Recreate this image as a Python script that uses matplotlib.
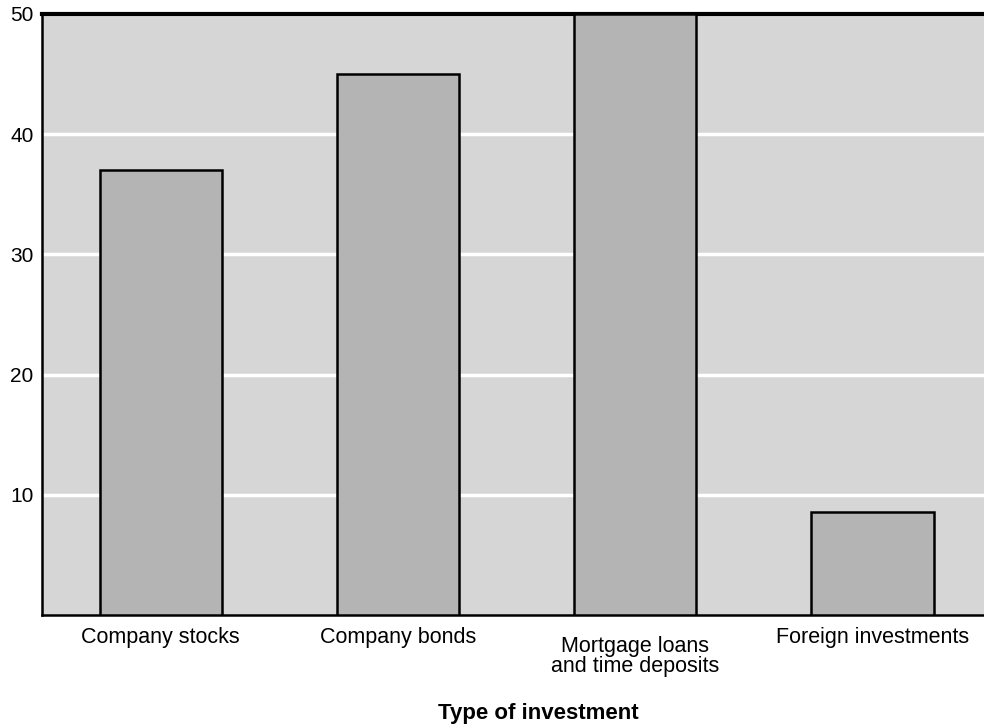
import matplotlib
matplotlib.use("Agg")
import matplotlib.pyplot as plt

plt.rcParams["font.family"] = ["Liberation Sans", "DejaVu Sans"]

categories = ["Company stocks", "Company bonds", "Mortgage loans\nand time deposits", "Foreign investments"]
values = [37, 45, 50, 8.6]
y_ticks = [10, 20, 30, 40, 50]

fig = plt.figure(figsize=(9.84, 7.28), dpi=100)
ax = fig.add_axes([0.0427, 0.1552, 0.9573, 0.8256])
ax.set_facecolor("#d6d6d6")

x = list(range(len(categories)))
ax.bar(x, values, width=0.515, color="#b4b4b4", edgecolor="black", linewidth=1.8, zorder=3)

ax.set_xlim(-0.5, 3.47)
ax.set_ylim(0, 50)
ax.set_yticks(y_ticks)
ax.set_yticklabels([str(t) for t in y_ticks], fontsize=15)
ax.set_xticks(x)
ax.set_xticklabels([])
ax.tick_params(axis="both", length=0)
ax.tick_params(axis="y", pad=6)

# category names under each bar; two-line names sit a little lower
for xi, name in zip(x, categories):
    dy = -15 if "\n" in name else -8.5
    ax.annotate(name, xy=(xi, 0), xycoords=("data", "axes fraction"),
                xytext=(0, dy), textcoords="offset points",
                ha="center", va="top", fontsize=15.5, linespacing=0.95)

ax.yaxis.grid(True, color="white", linewidth=2.5, zorder=1)
ax.set_axisbelow(True)

ax.spines["right"].set_visible(False)
ax.spines["top"].set_linewidth(3)
ax.spines["left"].set_linewidth(1.8)
ax.spines["bottom"].set_linewidth(1.8)

ax.set_xlabel("Type of investment", fontsize=16, fontweight="bold")
ax.xaxis.set_label_coords(0.5265, -0.146)

fig.savefig("out.png", dpi=100)
